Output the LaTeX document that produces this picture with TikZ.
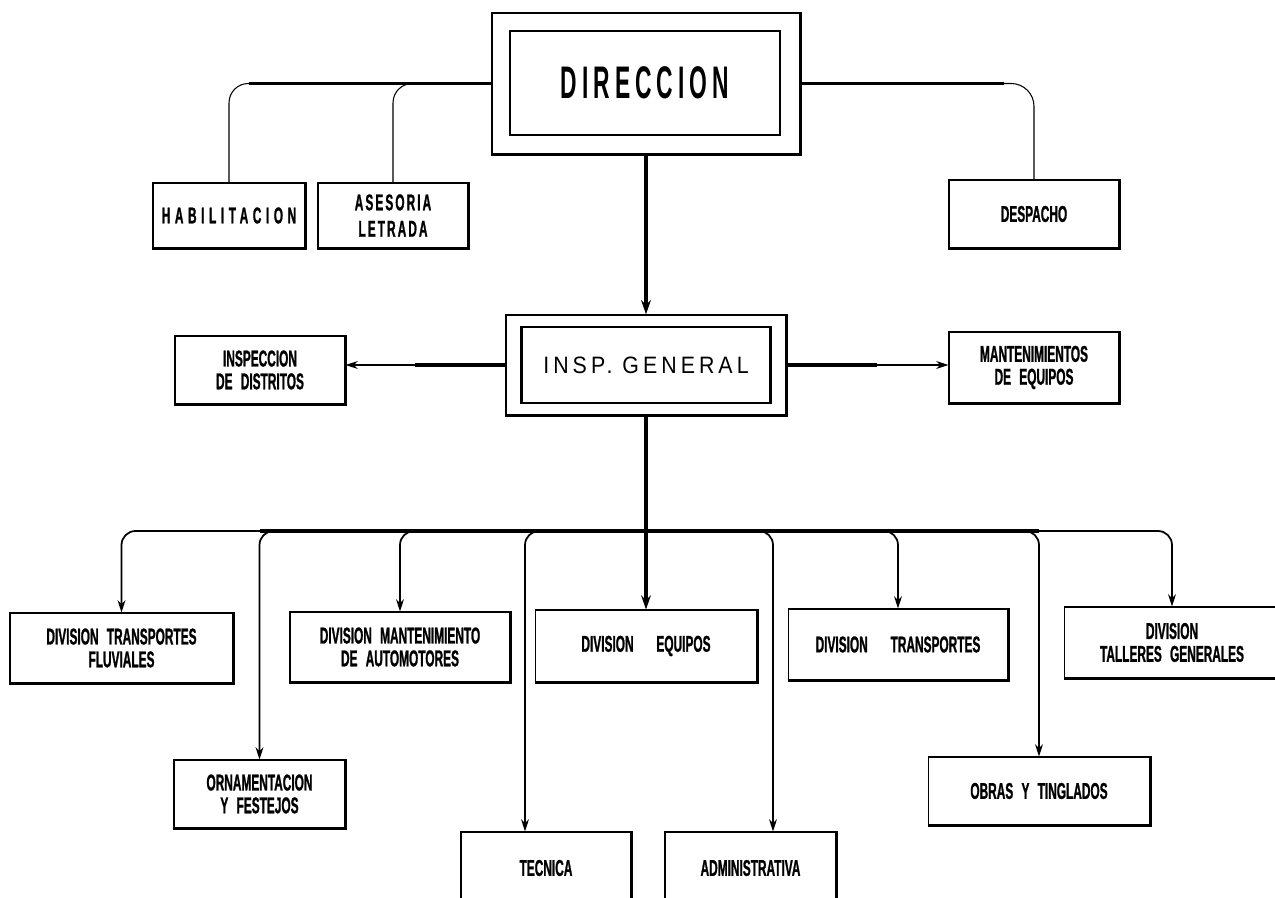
\documentclass[tikz,border=0pt]{standalone}
\usepackage{fontspec}
\setmainfont{Liberation Sans}
\newfontfamily\narrowfont[FakeStretch=0.52,FakeBold=1,WordSpace=2.5]{Liberation Sans Bold}
\newfontfamily\habfont[FakeStretch=0.52,FakeBold=1,LetterSpace=20]{Liberation Sans Bold}
\newfontfamily\asefont[FakeStretch=0.52,FakeBold=1,LetterSpace=9]{Liberation Sans Bold}
\newfontfamily\titlefont[FakeStretch=0.5,LetterSpace=11]{Liberation Sans Bold}
\newfontfamily\inspfont[FakeStretch=0.9,LetterSpace=17]{Liberation Sans}
\usetikzlibrary{arrows.meta,calc}

\tikzset{
  unit/.style={draw, line width=0.6pt, inner sep=0pt, align=center,
    font=\narrowfont\fontsize{13}{13}\selectfont},
  outerbox/.style={draw, line width=0.8pt, inner sep=0pt},
  innerbox/.style={draw, line width=1.4pt, inner sep=0pt, align=center},
  shadeline/.style={line width=2pt, line join=miter},
  link/.style={line width=0.6pt, rounded corners=11pt},
  heavy/.style={line width=2.2pt},
  medium/.style={line width=1.4pt},
  trunk/.style={line width=2.6pt},
  tip/.style={-{Stealth[length=7pt, width=4.5pt]}},
  branch/.style={line width=1pt, rounded corners=8pt, tip},
}

\begin{document}
\begin{tikzpicture}[x=0.02cm, y=-0.02cm]
    \clip (0,0) rectangle (1275,898);

    % top level
    \node[outerbox, minimum width=6.16cm, minimum height=2.82cm] (dir) at (646,83.5) {};
    \node[innerbox, minimum width=5.4cm, minimum height=2.08cm,
          font=\titlefont\fontsize{26}{26}\selectfont] (dirtxt) at (645,83) {DIRECCION};
    \node[unit, minimum width=3.04cm, minimum height=1.3cm, font=\habfont\fontsize{13}{13}\selectfont]
        (hab) at (229,215.5) {HABILITACION};
    \node[unit, minimum width=3.0cm, minimum height=1.3cm, font=\asefont\fontsize{13}{15}\selectfont]
        (ase) at (393,215.5) {ASESORIA\\LETRADA};
    \node[unit, minimum width=3.4cm, minimum height=1.36cm] (desp) at (1034,214) {DESPACHO};

    % inspeccion general
    \node[outerbox, minimum width=5.6cm, minimum height=2.0cm] (insp) at (646,365) {};
    \node[innerbox, minimum width=4.98cm, minimum height=1.52cm,
          font=\inspfont\fontsize{13.5}{14}\selectfont] (insptxt) at (646,365) {INSP. GENERAL};
    \node[unit, minimum width=3.4cm, minimum height=1.36cm] (insd) at (260,370) {INSPECCION\\DE DISTRITOS};
    \node[unit, minimum width=3.4cm, minimum height=1.42cm] (mant) at (1034,367.5) {MANTENIMIENTOS\\DE EQUIPOS};

    % divisiones
    \node[unit, minimum width=4.46cm, minimum height=1.4cm] (dtf) at (121.5,648) {DIVISION TRANSPORTES\\FLUVIALES};
    \node[unit, minimum width=3.42cm, minimum height=1.36cm] (orn) at (259.5,794) {ORNAMENTACION\\Y FESTEJOS};
    \node[unit, minimum width=4.4cm, minimum height=1.4cm] (dma) at (400,647) {DIVISION MANTENIMIENTO\\DE AUTOMOTORES};
    \node[unit, minimum width=3.4cm, minimum height=1.44cm] (tec) at (546,868) {TECNICA};
    \node[unit, minimum width=4.44cm, minimum height=1.44cm] (deq) at (646,646) {DIVISION\quad EQUIPOS};
    \node[unit, minimum width=3.42cm, minimum height=1.44cm] (adm) at (750.5,868) {ADMINISTRATIVA};
    \node[unit, minimum width=4.4cm, minimum height=1.42cm] (dt) at (898,644.5) {DIVISION\quad TRANSPORTES};
    \node[unit, minimum width=4.44cm, minimum height=1.36cm] (obr) at (1039,791) {OBRAS Y TINGLADOS};
    \node[unit, minimum width=4.32cm, minimum height=1.42cm] (dtg) at (1172,642.5) {DIVISION\\TALLERES GENERALES};

    % heavy right and bottom edges
    \foreach \n in {dir,insp,hab,ase,desp,insd,mant,dtf,orn,dma,tec,deq,adm,dt,obr,dtg}
        \draw[shadeline] (\n.south west) -- (\n.south east) -- (\n.north east);

    % staff units
    \draw[link] (dir.west) -| (hab.north);
    \draw[link] (dir.west) -| (ase.north);
    \draw[medium] (dir.west) -- ($(dir.west -| hab.north)+(20,0)$);
    \draw[heavy] (dir.west) -- (dir.west -| ase.north);
    \draw[link, rounded corners=13pt] (dir.east) -| (desp.north);
    \draw[medium] (dir.east) -- ($(dir.east -| desp.north)+(-30,0)$);
    \draw[heavy] (dir.east) -- ($(dir.east -| desp.north)+(-140,0)$);

    \draw[trunk, -{Stealth[length=8pt, width=5.5pt]}] (dir.south) -- (insp.north);

    % side arrows
    \draw[link, tip] (insp.west) -- (insd.east |- insp.west);
    \draw[heavy] (insp.west) -- ++(-90,0);
    \draw[link, tip] (insp.east) -- (mant.west |- insp.east);
    \draw[heavy] (insp.east) -- ++(90,0);

    % distribution line
    \coordinate (foot) at (646,531);
    \draw[trunk] (insp.south) -- (foot);
    \foreach \n in {dtf,orn,dma,dt,obr,dtg}
        \draw[branch] (foot) -| (\n.north);
    \draw[branch] (foot) -| ([xshift=-0.42cm]tec.north);
    \draw[branch] (foot) -| ([xshift=0.45cm]adm.north);
    \draw[heavy] (foot -| orn.north) -- (foot -| obr.north);
    \draw[trunk, -{Stealth[length=8pt, width=5.5pt]}] (foot) -- (deq.north);
\end{tikzpicture}
\end{document}
